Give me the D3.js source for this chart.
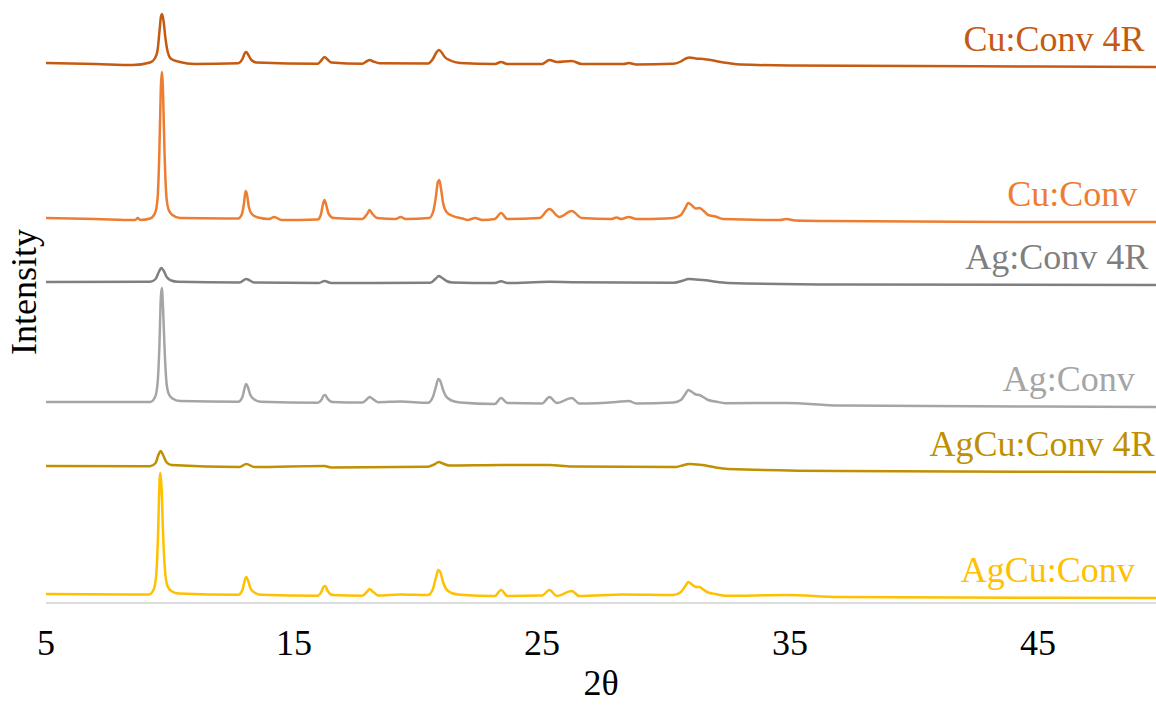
<!DOCTYPE html>
<html>
<head>
<meta charset="utf-8">
<script src="https://cdn.jsdelivr.net/npm/d3@7"></script>
<style>
  body { margin: 0; background: #fff; }
</style>
</head>
<body>
<svg id="chart" width="1156" height="706"></svg>
<script>
// series names, top to bottom
var names = ["Cu:Conv 4R", "Cu:Conv", "Ag:Conv 4R", "Ag:Conv", "AgCu:Conv 4R", "AgCu:Conv"];
var colors = ["#C55A11", "#ED7D31", "#7F7F7F", "#A5A5A5", "#BF9000", "#FFC000"];
var xTicks = [5, 15, 25, 35, 45];
// 2theta where each label ends
var labelAt = [49.3, 49.0, 49.45, 48.9, 49.7, 48.9];
var FONT = '"Liberation Serif", "Times New Roman", "DejaVu Serif", serif';

// [2theta, intensity] (offset already added)
var cuConv4R = [[5,5400],[7,5390],[8.5,5380],[9.2,5405],[9.4,5450],[9.5,5530],[9.58,5730],[9.64,5870],[9.68,5890],[9.74,5820],[9.82,5640],[9.92,5500],[10.05,5440],[10.4,5410],[11,5390],[12.75,5398],[12.92,5440],[13.02,5500],[13.08,5510],[13.16,5480],[13.28,5430],[13.5,5405],[15.95,5392],[16.1,5425],[16.23,5460],[16.33,5440],[16.5,5405],[17.75,5392],[17.95,5420],[18.05,5430],[18.2,5415],[18.45,5398],[20.4,5395],[20.6,5440],[20.74,5505],[20.84,5530],[20.94,5510],[21.08,5460],[21.3,5425],[21.7,5400],[23.1,5390],[23.35,5410],[23.6,5390],[25,5390],[25.3,5430],[25.6,5410],[26.2,5420],[26.6,5390],[28.3,5390],[28.5,5400],[28.8,5385],[30.3,5392],[30.6,5415],[30.8,5445],[30.95,5455],[31.2,5445],[31.5,5440],[31.8,5430],[32.1,5415],[32.5,5400],[33,5385],[35,5375],[40,5370],[45,5365],[50,5360]];
var cuConv = [[5,3850],[7,3840],[8.6,3830],[8.7,3850],[8.8,3830],[9.2,3845],[9.4,3900],[9.5,4050],[9.57,4500],[9.63,5150],[9.67,5310],[9.72,5100],[9.78,4500],[9.86,4050],[9.95,3930],[10.1,3880],[10.4,3850],[12.75,3845],[12.9,3890],[12.98,3990],[13.05,4120],[13.1,4090],[13.18,3960],[13.3,3890],[13.55,3855],[14,3840],[14.2,3860],[14.5,3830],[15.95,3835],[16.08,3880],[16.17,3990],[16.23,4030],[16.3,3980],[16.4,3890],[16.6,3850],[17.75,3840],[17.95,3890],[18.05,3930],[18.15,3895],[18.35,3850],[19.1,3840],[19.3,3860],[19.5,3840],[20.45,3850],[20.62,3920],[20.72,4060],[20.8,4210],[20.86,4230],[20.93,4140],[21.02,3990],[21.15,3910],[21.4,3870],[21.8,3845],[22,3830],[22.3,3850],[22.6,3830],[23.1,3840],[23.35,3900],[23.6,3840],[24.9,3850],[25.3,3940],[25.7,3860],[26.2,3920],[26.6,3850],[27.8,3840],[28,3855],[28.2,3840],[28.5,3860],[28.8,3840],[30,3845],[30.3,3850],[30.6,3880],[30.78,3950],[30.9,4000],[31.05,3975],[31.2,3945],[31.35,3950],[31.5,3925],[31.7,3880],[32,3865],[32.3,3840],[34.6,3830],[34.86,3840],[35.2,3825],[36.5,3820],[40,3815],[45,3810],[50,3810]];
var agConv4R = [[5,3210],[9.2,3212],[9.42,3240],[9.55,3310],[9.65,3350],[9.75,3320],[9.88,3255],[10.05,3225],[10.3,3212],[12.8,3205],[13.08,3240],[13.4,3205],[16,3200],[16.23,3220],[16.5,3200],[20.5,3202],[20.7,3240],[20.84,3270],[20.95,3255],[21.15,3220],[21.4,3205],[23.1,3200],[23.35,3218],[23.6,3200],[25.3,3212],[26.2,3208],[30.3,3202],[30.7,3225],[30.9,3240],[31.2,3235],[31.6,3228],[32,3212],[32.5,3200],[37,3185],[50,3180]];
var agConv = [[5,2010],[9.2,2010],[9.4,2060],[9.5,2200],[9.57,2550],[9.63,3050],[9.67,3150],[9.72,2950],[9.78,2550],[9.86,2200],[9.95,2090],[10.1,2045],[10.4,2020],[12.75,2012],[12.92,2060],[13,2140],[13.07,2190],[13.14,2160],[13.24,2080],[13.4,2035],[13.65,2012],[15.95,2002],[16.1,2030],[16.2,2075],[16.26,2080],[16.35,2045],[16.55,2010],[17.75,2005],[17.95,2040],[18.05,2060],[18.15,2045],[18.4,2008],[19.3,2015],[20.4,2002],[20.6,2060],[20.72,2160],[20.82,2240],[20.9,2220],[21,2140],[21.12,2070],[21.35,2025],[21.7,2005],[23.1,1990],[23.35,2050],[23.6,2000],[25,1995],[25.3,2060],[25.6,2000],[26.2,2050],[26.5,1995],[28,2010],[28.5,2020],[28.8,1995],[30.3,2005],[30.6,2030],[30.78,2090],[30.9,2130],[31.05,2110],[31.2,2085],[31.35,2080],[31.5,2060],[31.7,2030],[32,2015],[32.4,1998],[34.86,2000],[37,1975],[45,1965],[50,1960]];
var agCuConv4R = [[5,1370],[9.2,1368],[9.42,1400],[9.53,1480],[9.62,1520],[9.72,1480],[9.85,1410],[10.05,1380],[12.8,1360],[13.08,1390],[13.4,1360],[16.23,1370],[16.5,1355],[20.4,1362],[20.65,1385],[20.84,1410],[21,1395],[21.25,1375],[23.35,1380],[25.3,1380],[26.2,1365],[30.4,1360],[30.7,1378],[30.9,1390],[31.2,1385],[31.6,1375],[32,1355],[32.5,1340],[37,1320],[50,1310]];
var agCuConv = [[5,90],[9.15,85],[9.35,140],[9.45,300],[9.52,700],[9.58,1230],[9.61,1300],[9.66,1150],[9.72,700],[9.8,320],[9.9,170],[10.05,120],[10.35,95],[12.75,82],[12.92,130],[13,210],[13.07,260],[13.14,230],[13.24,150],[13.4,105],[13.65,82],[15.95,72],[16.1,110],[16.2,165],[16.26,170],[16.35,125],[16.55,80],[17.75,72],[17.95,115],[18.05,140],[18.15,120],[18.4,75],[19.3,85],[20.4,80],[20.6,140],[20.72,250],[20.82,330],[20.9,310],[21,220],[21.12,145],[21.35,100],[21.7,82],[23.1,70],[23.35,130],[23.6,70],[25,75],[25.3,130],[25.6,70],[26.2,120],[26.5,70],[28.3,85],[30.3,80],[30.6,110],[30.78,170],[30.9,210],[31.05,185],[31.2,160],[31.35,160],[31.5,135],[31.7,105],[32,90],[32.4,72],[34.86,80],[37,60],[50,50]];

var seriesData = [cuConv4R, cuConv, agConv4R, agConv, agCuConv4R, agCuConv];

var svg = d3.select("#chart");
var x = d3.scaleLinear().domain([5, 50]).range([46, 1162]);
var y = d3.scaleLinear().domain([0, 6030]).range([603, 0]);

// axis line
svg.append("line")
  .attr("x1", x(5)).attr("x2", 1156)
  .attr("y1", y(0)).attr("y2", y(0))
  .attr("stroke", "#d0d0d0").attr("stroke-width", 1.5);

var line = d3.line()
  .x(function(d) { return x(d[0]); })
  .y(function(d) { return y(d[1]); })
  .curve(d3.curveMonotoneX);

seriesData.forEach(function(s, i) {
  svg.append("path")
    .datum(s)
    .attr("d", line)
    .attr("fill", "none")
    .attr("stroke", colors[i])
    .attr("stroke-width", 2.5)
    .attr("stroke-linejoin", "round");
  var last = s[s.length - 1];
  svg.append("text")
    .attr("x", x(labelAt[i]))
    .attr("y", y(last[1]) - 16)
    .attr("text-anchor", "end")
    .attr("font-family", FONT)
    .attr("font-size", 36)
    .attr("fill", colors[i])
    .text(names[i]);
});

// x tick labels
svg.selectAll(".tick-label")
  .data(xTicks)
  .enter().append("text")
  .attr("class", "tick-label")
  .attr("x", function(d) { return x(d); })
  .attr("y", 655)
  .attr("text-anchor", "middle")
  .attr("font-family", FONT)
  .attr("font-size", 36)
  .attr("fill", "#000")
  .text(function(d) { return d; });

svg.append("text")
  .attr("x", 601).attr("y", 695)
  .attr("text-anchor", "middle")
  .attr("font-family", FONT)
  .attr("font-size", 36)
  .text("2θ");

svg.append("text")
  .attr("transform", "translate(36,292) rotate(-90)")
  .attr("text-anchor", "middle")
  .attr("font-family", FONT)
  .attr("font-size", 36)
  .text("Intensity");
</script>
</body>
</html>
